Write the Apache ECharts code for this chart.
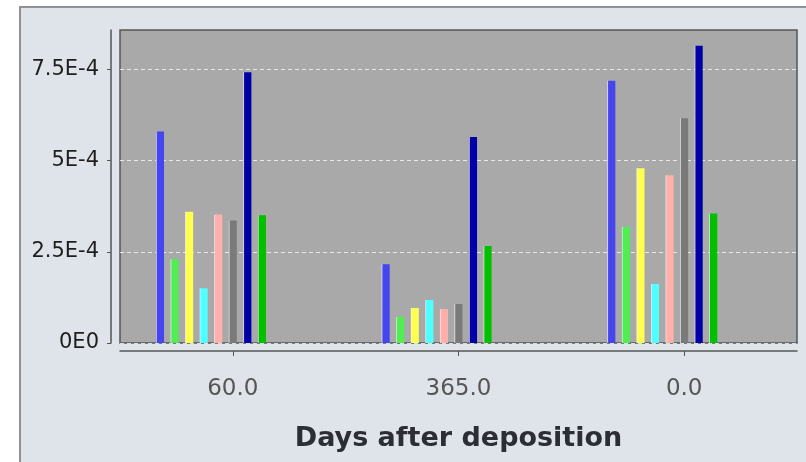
<!DOCTYPE html>
<html>
<head>
<meta charset="utf-8">
<script src="https://cdn.jsdelivr.net/npm/echarts@6/dist/echarts.min.js"></script>
<style>
  html, body { margin: 0; padding: 0; background: #ffffff; }
  #chart { width: 806px; height: 462px; }
</style>
</head>
<body>
<div id="chart"></div>
<script>
// categories on the x axis
const categories = ['60.0', '365.0', '0.0'];
// y ticks and their labels
const yTickValues = [0, 2.5e-4, 5e-4, 7.5e-4];
const yTickLabels = ['0E0', '2.5E-4', '5E-4', '7.5E-4'];

// series values
const blueVals       = [5.80e-4, 2.16e-4, 7.19e-4];
const lightGreenVals = [2.30e-4, 0.72e-4, 3.19e-4];
const yellowVals     = [3.60e-4, 0.96e-4, 4.79e-4];
const cyanVals       = [1.50e-4, 1.18e-4, 1.62e-4];
const pinkVals       = [3.52e-4, 0.93e-4, 4.60e-4];
const grayVals       = [3.36e-4, 1.07e-4, 6.16e-4];
const darkBlueVals   = [7.42e-4, 5.65e-4, 8.15e-4];
const greenVals      = [3.50e-4, 2.66e-4, 3.55e-4];
// empty series that still take a slot in each group
const emptyVals      = [null, null, null];

const seriesList = [
  { name: 's1', data: blueVals, color: '#4646ee' },
  { name: 's2', data: lightGreenVals, color: '#50ee50' },
  { name: 's3', data: yellowVals, color: '#ffff50' },
  { name: 's4', data: cyanVals, color: '#50ffff' },
  { name: 's5', data: pinkVals, color: '#ffb0aa' },
  { name: 's6', data: grayVals, color: '#7a7a7a' },
  { name: 's7', data: darkBlueVals, color: '#0000a6' },
  { name: 's8', data: greenVals, color: '#00c000' },
  { name: 's9', data: emptyVals, color: '#ff0000' },
  { name: 's10', data: emptyVals, color: '#ff0000' },
  { name: 's11', data: emptyVals, color: '#ff0000' }
];

const chart = echarts.init(document.getElementById('chart'));

const option = {
  backgroundColor: '#ffffff',
  animation: false,
  graphic: [{
    type: 'rect',
    shape: { x: 20, y: 7, width: 800, height: 470 },
    style: { fill: '#dfe4ea', stroke: '#8e9297', lineWidth: 2 },
    z: -10
  }],
  grid: {
    left: 120, right: 9, top: 30, bottom: 119,
    outerBoundsMode: 'none',
    containLabel: false,
    show: true,
    backgroundColor: '#a9a9a9',
    borderColor: '#555555',
    borderWidth: 1.5
  },
  xAxis: {
    type: 'category',
    data: categories,
    offset: 8,
    axisLine: { show: true, onZero: false, lineStyle: { color: '#555', width: 1.5 } },
    axisTick: { show: true, alignWithLabel: true, length: 5, lineStyle: { color: '#555' } },
    axisLabel: { fontFamily: 'DejaVu Sans', fontSize: 23, color: '#555', margin: 27 },
    name: 'Days after deposition',
    nameLocation: 'middle',
    nameGap: 74,
    nameTextStyle: { fontFamily: 'DejaVu Sans', fontSize: 27, fontWeight: 'bold', color: '#2c2e36' }
  },
  yAxis: {
    type: 'value',
    min: 0,
    max: 8.58e-4,
    interval: 2.5e-4,
    offset: 9,
    axisLine: { show: true, onZero: false, lineStyle: { color: '#555', width: 1.5 } },
    axisTick: { show: true, length: 4, customValues: yTickValues, lineStyle: { color: '#555' } },
    axisLabel: {
      fontFamily: 'DejaVu Sans', fontSize: 21, color: '#1e1e1e', margin: 12,
      customValues: yTickValues,
      formatter: function (v) {
        const i = Math.round(v / 2.5e-4);
        return yTickLabels[i] || '';
      }
    },
    splitLine: { show: true, lineStyle: { color: 'rgba(255,255,255,0.75)', type: [4, 3], width: 1 } }
  },
  series: seriesList.map(s => ({
    name: s.name,
    type: 'bar',
    data: s.data,
    barWidth: 8,
    barGap: '82%',
    itemStyle: {
      color: new echarts.graphic.LinearGradient(0, 0, 1, 0, [
        { offset: 0, color: '#f4f4ff' },
        { offset: 0.15, color: s.color },
        { offset: 1, color: s.color }
      ])
    }
  }))
};

chart.setOption(option);
</script>
</body>
</html>
